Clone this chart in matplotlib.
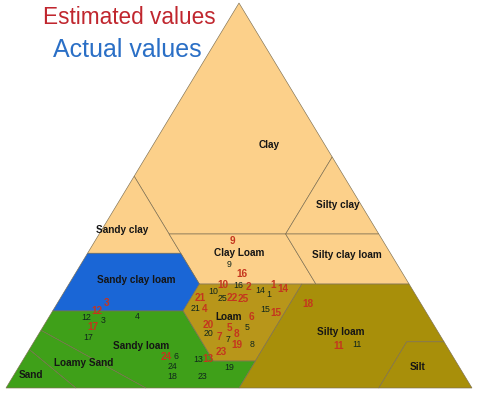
import matplotlib.pyplot as plt
from matplotlib.patches import Polygon

plt.rcParams['font.family'] = ['Liberation Sans', 'DejaVu Sans']

# soil texture classes (USDA), vertices as (clay %, silt %)
regions = {
    'Clay': [(40, 15), (55, 0), (100, 0), (60, 40), (40, 40)],
    'Sandy clay': [(35, 0), (55, 0), (35, 20)],
    'Silty clay': [(40, 40), (60, 40), (40, 60)],
    'Clay Loam': [(27, 28), (35, 20), (40, 15), (40, 40), (27, 53)],
    'Silty clay loam': [(27, 53), (40, 40), (40, 60), (27, 73)],
    'Sandy clay loam': [(20, 0), (35, 0), (35, 20), (27, 28), (20, 28)],
    'Loam': [(27, 28), (27, 50), (7, 50), (7, 41), (20, 28)],
    'Silty loam': [(27, 50), (27, 73), (12, 88), (12, 80), (0, 80), (0, 50), (7, 50)],
    'Silt': [(12, 80), (12, 88), (0, 100), (0, 80)],
    'Sandy loam': [(15, 0), (20, 0), (20, 28), (7, 41), (7, 50), (0, 50), (0, 30)],
    'Loamy Sand': [(10, 0), (15, 0), (0, 30), (0, 15)],
    'Sand': [(0, 0), (10, 0), (0, 15)],
}
region_colors = {
    'Clay': '#fcd08a', 'Sandy clay': '#fcd08a', 'Silty clay': '#fcd08a',
    'Clay Loam': '#fcd08a', 'Silty clay loam': '#fcd08a',
    'Sandy clay loam': '#1a66d6',
    'Loam': '#b8961a', 'Silty loam': '#a88f0a', 'Silt': '#a88f0a',
    'Sandy loam': '#3fa019', 'Loamy Sand': '#3fa019', 'Sand': '#3fa019',
}
# label anchor (clay %, silt %)
label_pos = {
    'Clay': (63, 25), 'Sandy clay': (41, 4.5), 'Silty clay': (47.5, 47.5),
    'Clay Loam': (35, 32.5), 'Silty clay loam': (34.5, 56),
    'Sandy clay loam': (28, 14), 'Sandy loam': (11, 23.5),
    'Loamy Sand': (6.5, 13.5), 'Sand': (3.5, 3.5), 'Loam': (18.5, 38.5),
    'Silty loam': (14.5, 64.5), 'Silt': (5.5, 85.5),
}

# estimated values: sample id, clay %, silt %
est_id = ['16', '10', '2', '1', '14', '21', '22', '25', '4', '6', '15', '20', '5',
          '8', '7', '19', '23', '13', '24', '3', '12', '17', '9', '18', '11']
est_clay = [29.6, 26.8, 26.2, 26.8, 25.7, 23.5, 23.4, 23.1, 20.5, 18.5, 19.5, 16.3, 15.6,
            14.0, 13.2, 11.2, 9.4, 7.5, 8.1, 22.2, 20.1, 15.8, 38.3, 21.8, 10.9]
est_silt = [35.8, 33.1, 39.0, 43.9, 46.6, 30.0, 36.9, 39.3, 32.4, 43.5, 48.2, 35.3, 40.1,
            42.5, 39.1, 44.0, 41.4, 39.5, 30.4, 10.4, 9.5, 10.8, 29.5, 53.8, 66.0]

# actual values
act_id = ['10', '16', '25', '14', '1', '21', '15', '5', '20', '7', '8', '13', '19',
          '23', '6', '24', '18', '12', '3', '17', '4', '9', '11']
act_clay = [25.0, 26.6, 23.3, 25.3, 24.2, 20.7, 20.4, 15.8, 14.2, 12.6, 11.2, 7.5, 5.3,
            2.9, 8.1, 5.5, 2.9, 18.4, 17.5, 13.1, 18.7, 32.2, 11.4]
act_silt = [31.9, 36.5, 34.9, 42.0, 44.3, 30.4, 45.5, 43.9, 36.3, 41.4, 47.3, 37.4, 45.3,
            40.8, 32.4, 32.9, 34.2, 8.0, 12.1, 11.0, 18.9, 31.8, 69.7]


def tern(clay, silt):
    return silt + clay / 2.0, clay


fig = plt.figure(figsize=(4.8, 3.94), dpi=100)
ax = fig.add_axes([6 / 480, 6 / 394, 466 / 480, 385 / 394])
ax.set_xlim(0, 100)
ax.set_ylim(0, 100)
ax.axis('off')

for name, verts in regions.items():
    pts = [tern(c, s) for c, s in verts]
    ax.add_patch(Polygon(pts, closed=True, facecolor=region_colors[name],
                         edgecolor='#7d6f52', lw=0.45, clip_on=False))

for name, (c, s) in label_pos.items():
    x, y = tern(c, s)
    ax.text(x, y, name, ha='center', va='center', fontsize=7.2,
            fontweight='bold', color='#151515')

for t, c, s in zip(act_id, act_clay, act_silt):
    x, y = tern(c, s)
    ax.text(x, y, t, ha='center', va='center', fontsize=6.3,
            color='#10261c')

for t, c, s in zip(est_id, est_clay, est_silt):
    x, y = tern(c, s)
    ax.text(x, y, t, ha='center', va='center', fontsize=7.2,
            fontweight='bold', color='#c4361e')

fig.text(129 / 480, 1 - 18 / 394, 'Estimated values', ha='center', va='center',
         fontsize=16.3, color='#c0262e')
fig.text(127 / 480, 1 - 50 / 394, 'Actual values', ha='center', va='center',
         fontsize=18, color='#2a6fc6')

fig.savefig('out.png', dpi=100)
